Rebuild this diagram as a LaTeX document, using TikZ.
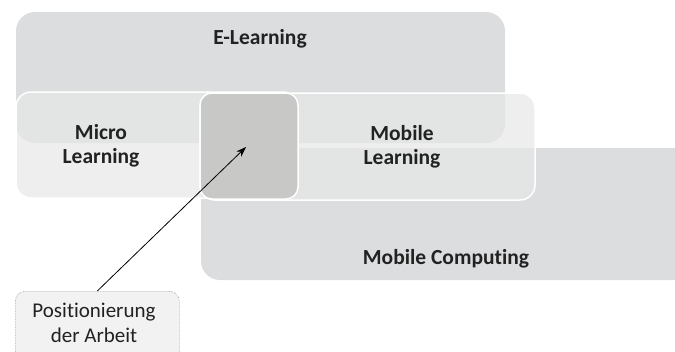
\documentclass[tikz,border=0pt]{standalone}
\usepackage{fontspec}
\setmainfont{Carlito}[Ligatures=NoCommon]
\usetikzlibrary{arrows.meta}
\begin{document}
\begin{tikzpicture}[x=1pt,y=-1pt,
  bigbox/.style={fill=boxgray, rounded corners=19pt},
  layerbox/.style={fill=layergray, fill opacity=0.71, draw=white, line width=1.5pt, rounded corners=15pt},
  centerbox/.style={fill=centergray, draw=white, line width=1.5pt, rounded corners=12pt},
  lbl/.style={font=\bfseries\fontsize{21.5}{24}\selectfont, text=textgray, align=center, inner sep=0pt},
  notebox/.style={fill=notegray, draw=gray!80, densely dotted, line width=0.6pt, rounded corners=10pt},
  notelbl/.style={font=\fontsize{21}{25.5}\selectfont, align=center, text=textgray, inner sep=0pt},
  pointer/.style={-{Stealth[length=10pt,width=7pt]}, line width=0.8pt}
]
\definecolor{boxgray}{HTML}{DCDDDF}
\definecolor{layergray}{HTML}{E7E7E7}
\definecolor{centergray}{HTML}{C8C8C7}
\definecolor{notegray}{HTML}{F2F2F2}
\definecolor{textgray}{HTML}{222222}
\useasboundingbox (0,0) rectangle (675,351);
\path[bigbox] (16,12) rectangle (505,143);
\path[bigbox] (201,148) rectangle (695,280);
\path[layerbox] (16,92) rectangle (298,198);
\path[layerbox] (200,93) rectangle (535,200);
\path[centerbox] (200,93) rectangle (298,199);
\node[lbl] (el) at (260,39) {E-Learning};
\node[lbl] (ml) at (101,146) {Micro\\Learning};
\node[lbl] (mol) at (402,147) {Mobile\\Learning};
\node[lbl] (mc) at (446,259) {Mobile Computing};
\node[notebox, minimum width=164pt, minimum height=70pt, anchor=north west] (note) at (15,291) {};
\node[notelbl] (notetext) at (94,323) {Positionierung\\der Arbeit};
\coordinate (tip) at (246,147);
\draw[pointer] (note.north) -- (tip);
\end{tikzpicture}
\end{document}
